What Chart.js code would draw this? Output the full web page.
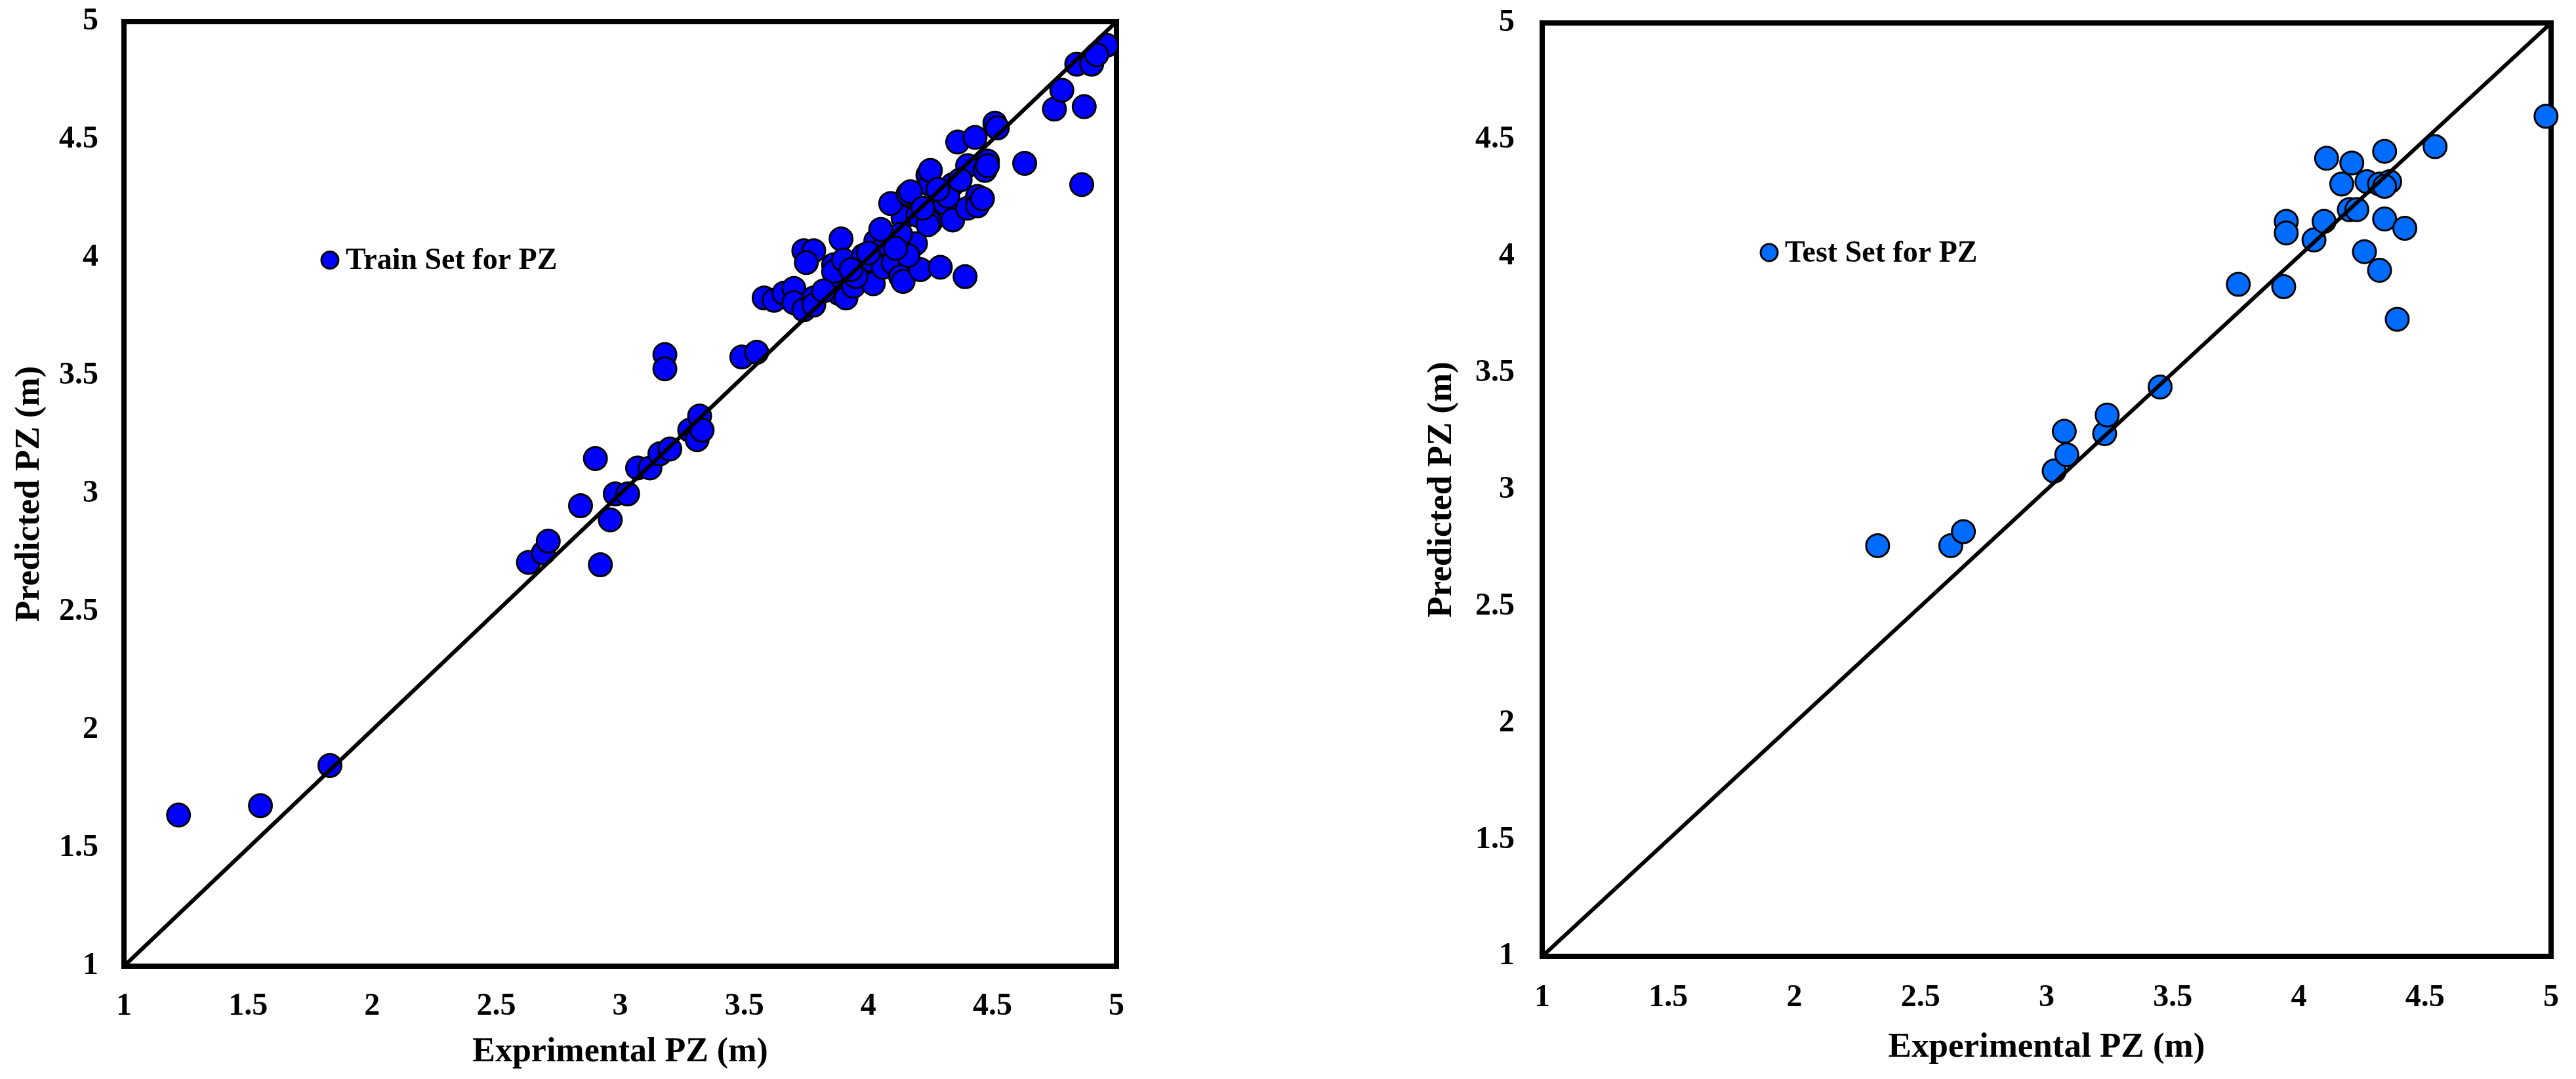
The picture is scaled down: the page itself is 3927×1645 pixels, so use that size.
<!DOCTYPE html>
<html>
<head>
<meta charset="utf-8">
<script src="https://cdn.jsdelivr.net/npm/chart.js@4.4.1/dist/chart.umd.min.js"></script>
<style>
  html, body { margin: 0; padding: 0; background: #fff; }
  body { width: 3927px; height: 1645px; position: relative; overflow: hidden; }
  .box { position: absolute; top: 0; height: 1645px; }
</style>
</head>
<body>
<div class="box" style="left:0;width:1760px"><canvas id="trainChart" width="1760" height="1645"></canvas></div>
<div class="box" style="left:2150px;width:1777px"><canvas id="testChart" width="1777" height="1645"></canvas></div>
<script>
// axis range shared by both panels
const axisMin = 1;
const axisMax = 5;
const axisStep = 0.5;

// train set: experimental vs predicted PZ (m)
const trainExp = [1.22, 1.55, 1.83, 2.63, 2.69, 2.71, 2.92, 2.84, 2.96, 2.98, 3.03, 2.90, 3.07, 3.12, 3.16, 3.20,
  3.18, 3.18, 3.28, 3.31, 3.32, 3.33, 3.49, 3.55,
  3.58, 3.62, 3.66, 3.70, 3.70, 3.74, 3.78, 3.78, 3.74, 3.78, 3.75, 3.89, 3.86, 3.86, 3.90, 3.88,
  3.91, 3.94, 3.97, 3.98, 4.01, 4.02, 4.03, 4.07, 4.06, 4.10, 4.13, 4.14, 4.14, 4.09, 4.16, 4.19,
  4.21, 4.24, 4.25, 4.25, 4.29, 4.16, 4.39, 4.20, 4.24, 4.25, 4.31, 4.34, 4.34, 4.40, 4.40, 4.44,
  4.44, 4.48, 4.47, 4.36, 4.43, 4.51, 4.52, 4.63, 4.75, 4.78, 4.87, 4.86, 4.84, 4.90, 4.96, 4.92,
  4.17, 4.32, 4.46, 4.48, 4.13, 4.05, 3.95, 4.00, 3.82, 3.93, 4.11, 4.22, 4.28, 4.37];
const trainPred = [1.64, 1.68, 1.85, 2.71, 2.75, 2.80, 2.70, 2.95, 2.89, 3.00, 3.00, 3.15, 3.11, 3.11, 3.17, 3.19,
  3.59, 3.53, 3.27, 3.23, 3.33, 3.27, 3.58, 3.60,
  3.83, 3.82, 3.85, 3.87, 3.81, 3.78, 3.83, 3.80, 4.03, 4.03, 3.98, 4.08, 3.97, 3.94, 3.99, 3.85,
  3.83, 3.88, 3.94, 4.01, 3.99, 3.89, 4.07, 4.06, 3.96, 3.98, 3.92, 3.90, 4.17, 4.23, 4.27, 4.06,
  3.95, 4.35, 4.31, 4.15, 3.96, 4.01, 3.92, 4.18, 4.14, 4.37, 4.23, 4.16, 4.31, 4.39, 4.21, 4.26,
  4.22, 4.41, 4.37, 4.49, 4.51, 4.57, 4.55, 4.40, 4.63, 4.71, 4.64, 4.31, 4.82, 4.82, 4.90, 4.86,
  4.28, 4.26, 4.25, 4.39, 4.10, 4.12, 3.92, 4.02, 3.86, 3.95, 4.04, 4.21, 4.29, 4.33];

// test set
const testExp = [2.33, 2.62, 2.67, 3.03, 3.08, 3.07, 3.23, 3.24, 3.45, 3.76, 3.94, 3.95, 3.95, 4.06, 4.10, 4.11,
  4.21, 4.17, 4.20, 4.23, 4.27, 4.32, 4.36, 4.34, 4.34, 4.34, 4.42, 4.26, 4.32, 4.39, 4.54, 4.98];
const testPred = [2.76, 2.76, 2.82, 3.08, 3.15, 3.25, 3.24, 3.32, 3.44, 3.88, 3.87, 4.15, 4.10, 4.07, 4.15, 4.42,
  4.40, 4.31, 4.20, 4.20, 4.32, 4.31, 4.32, 4.30, 4.45, 4.16, 4.12, 4.02, 3.94, 3.73, 4.47, 4.60];

const serif = "'Liberation Serif', 'Times New Roman', serif";

const frameBox = {
  id: 'frameBox',
  beforeDatasetsDraw(chart) {
    const {ctx, chartArea: a} = chart;
    ctx.save();
    ctx.strokeStyle = '#000';
    ctx.lineWidth = 8;
    ctx.strokeRect(a.left, a.top, a.right - a.left, a.bottom - a.top);
    ctx.restore();
  }
};

const innerLegend = {
  id: 'innerLegend',
  afterDatasetsDraw(chart, args, opts) {
    const {ctx, scales} = chart;
    const px = scales.x.getPixelForValue(opts.x);
    const py = scales.y.getPixelForValue(opts.y);
    ctx.save();
    ctx.beginPath();
    ctx.arc(px, py, 13, 0, Math.PI * 2);
    ctx.fillStyle = opts.color;
    ctx.fill();
    ctx.lineWidth = 3;
    ctx.strokeStyle = '#000';
    ctx.stroke();
    ctx.font = 'bold 46px ' + serif;
    ctx.fillStyle = '#000';
    ctx.textAlign = 'left';
    ctx.textBaseline = 'middle';
    ctx.fillText(opts.text, px + 24, py + 2);
    ctx.restore();
  }
};

// 1, 1.5, 2 ... without trailing zeros
const tickText = v => String(Math.round(v * 10) / 10);

function makeChart(id, exp, pred, color, cfg) {
  const points = exp.map((v, i) => ({x: v, y: pred[i]}));
  return new Chart(document.getElementById(id), {
    type: 'scatter',
    data: {
      datasets: [
        {
          data: [{x: axisMin, y: axisMin}, {x: axisMax, y: axisMax}],
          showLine: true,
          borderColor: '#000',
          borderWidth: 6,
          pointRadius: 0,
          order: 0
        },
        {
          data: points,
          backgroundColor: color,
          borderColor: '#000',
          borderWidth: 3,
          pointRadius: 17.5,
          clip: false,
          order: 1
        }
      ]
    },
    options: {
      responsive: false,
      animation: false,
      devicePixelRatio: 1,
      layout: {padding: cfg.pad},
      plugins: {
        legend: {display: false},
        tooltip: {enabled: false},
        innerLegend: cfg.legend
      },
      scales: {
        x: {
          type: 'linear',
          min: axisMin, max: axisMax,
          grid: {display: false, drawTicks: false},
          border: {display: false},
          ticks: {stepSize: axisStep, padding: cfg.xTickPad, color: '#000', callback: tickText,
            font: {family: serif, size: 48, weight: 'bold'}},
          title: {display: true, text: cfg.xTitle, color: '#000',
            padding: {top: 0, bottom: cfg.xTitlePad},
            font: {family: serif, size: cfg.xTitleSize, weight: 'bold'}},
          afterFit(s) {
            s.height = cfg.xHeight;
            s.paddingLeft = 0;
            s.paddingRight = 0;
          }
        },
        y: {
          type: 'linear',
          min: axisMin, max: axisMax,
          grid: {display: false, drawTicks: false},
          border: {display: false},
          ticks: {stepSize: axisStep, padding: cfg.yTickPad, color: '#000', callback: tickText,
            font: {family: serif, size: 48, weight: 'bold'}},
          title: {display: true, text: 'Predicted PZ (m)', color: '#000',
            padding: {top: cfg.yTitlePad, bottom: 0},
            font: {family: serif, size: 53, weight: 'bold'}},
          afterFit(s) {
            s.width = cfg.yWidth;
            s.paddingTop = 0;
            s.paddingBottom = 0;
          }
        }
      }
    },
    plugins: [frameBox, innerLegend]
  });
}

makeChart('trainChart', trainExp, trainPred, '#0000FF', {
  pad: {top: 33, right: 58, bottom: 0, left: 0},
  yWidth: 189, xHeight: 172,
  yTickPad: 39, xTickPad: 33,
  yTitlePad: 14, xTitlePad: 9,
  xTitle: 'Exprimental PZ (m)', xTitleSize: 52,
  legend: {x: 1.83, y: 3.99, text: 'Train Set for PZ', color: '#0000FF'}
});

makeChart('testChart', testExp, testPred, '#006BFF', {
  pad: {top: 35, right: 38, bottom: 0, left: 0},
  yWidth: 201, xHeight: 187,
  yTickPad: 42, xTickPad: 35,
  yTitlePad: 17, xTitlePad: 16,
  xTitle: 'Experimental PZ (m)', xTitleSize: 53,
  legend: {x: 1.90, y: 4.016, text: 'Test Set for PZ', color: '#006BFF'}
});
</script>
</body>
</html>
